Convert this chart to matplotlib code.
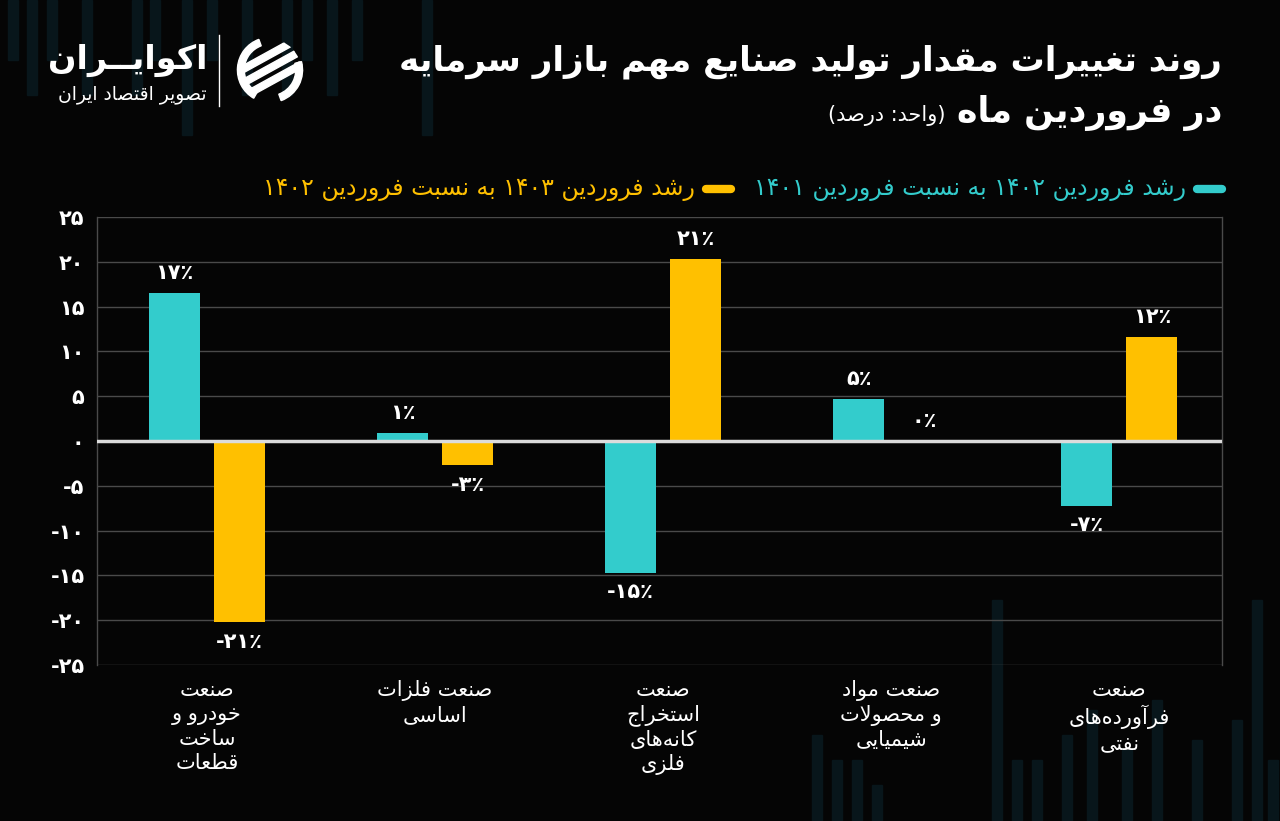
import matplotlib
matplotlib.use("Agg")
import matplotlib.pyplot as plt
import numpy as np
from matplotlib.lines import Line2D
from matplotlib.patches import Rectangle, Wedge, Polygon, Circle

# ---- data -------------------------------------------------------------
categories = [
    "صنعت\nخودرو و\nساخت\nقطعات",
    "صنعت فلزات\nاساسی",
    "صنعت\nاستخراج\nکانه\u200cهای\nفلزی",
    "صنعت مواد\nو محصولات\nشیمیایی",
    "صنعت\nفرآورده\u200cهای\nنفتی",
]
growth_1402 = [16.5, 0.9, -14.7, 4.7, -7.2]
growth_1403 = [-20.2, -2.7, 20.3, 0.0, 11.6]
labels_1402 = ["17", "1", "-15", "5", "-7"]
labels_1403 = ["-21", "-3", "21", "0", "12"]
yticks = [-25, -20, -15, -10, -5, 0, 5, 10, 15, 20, 25]

series_names = [
    "رشد فروردین ۱۴۰۲ به نسبت فروردین ۱۴۰۱",
    "رشد فروردین ۱۴۰۳ به نسبت فروردین ۱۴۰۲",
]
title_1 = "روند تغییرات مقدار تولید صنایع مهم بازار سرمایه"
title_2 = "در فروردین ماه"
unit = "(واحد: درصد)"

CYAN = "#33cccc"
YELLOW = "#ffc000"
BG = "#050505"

# ---- tiny persian shaper (no arabic_reshaper here) --------------------
DUAL = {
    "ب": "\ufe8f\ufe90\ufe91\ufe92", "ت": "\ufe95\ufe96\ufe97\ufe98",
    "ث": "\ufe99\ufe9a\ufe9b\ufe9c", "ج": "\ufe9d\ufe9e\ufe9f\ufea0",
    "ح": "\ufea1\ufea2\ufea3\ufea4", "خ": "\ufea5\ufea6\ufea7\ufea8",
    "س": "\ufeb1\ufeb2\ufeb3\ufeb4", "ش": "\ufeb5\ufeb6\ufeb7\ufeb8",
    "ص": "\ufeb9\ufeba\ufebb\ufebc", "ض": "\ufebd\ufebe\ufebf\ufec0",
    "ط": "\ufec1\ufec2\ufec3\ufec4", "ظ": "\ufec5\ufec6\ufec7\ufec8",
    "ع": "\ufec9\ufeca\ufecb\ufecc", "غ": "\ufecd\ufece\ufecf\ufed0",
    "ف": "\ufed1\ufed2\ufed3\ufed4", "ق": "\ufed5\ufed6\ufed7\ufed8",
    "ل": "\ufedd\ufede\ufedf\ufee0", "م": "\ufee1\ufee2\ufee3\ufee4",
    "ن": "\ufee5\ufee6\ufee7\ufee8", "ه": "\ufee9\ufeea\ufeeb\ufeec",
    "پ": "\ufb56\ufb57\ufb58\ufb59", "چ": "\ufb7a\ufb7b\ufb7c\ufb7d",
    "ک": "\ufb8e\ufb8f\ufb90\ufb91", "گ": "\ufb92\ufb93\ufb94\ufb95",
    "ی": "\ufbfc\ufbfd\ufbfe\ufbff", "ئ": "\ufe89\ufe8a\ufe8b\ufe8c",
    "ـ": "ـــــ",
}
RIGHT = {
    "ا": "\ufe8d\ufe8e", "آ": "\ufe81\ufe82", "أ": "\ufe83\ufe84",
    "د": "\ufea9\ufeaa", "ذ": "\ufeab\ufeac", "ر": "\ufead\ufeae",
    "ز": "\ufeaf\ufeb0", "ژ": "\ufb8a\ufb8b", "و": "\ufeed\ufeee",
}
LAM_ALEF = {"ا": "\ufefb\ufefc", "آ": "\ufef5\ufef6", "أ": "\ufef7\ufef8"}
MIRROR = {"(": ")", ")": "("}


def shape(text):
    out = []
    i = 0
    n = len(text)
    while i < n:
        ch = text[i]
        prev = text[i - 1] if i > 0 else ""
        nxt = text[i + 1] if i + 1 < n else ""
        prev_j = prev in DUAL
        if ch == "ل" and nxt in LAM_ALEF:
            out.append(LAM_ALEF[nxt][1 if prev_j else 0])
            i += 2
            continue
        next_j = nxt in DUAL or nxt in RIGHT
        if ch in DUAL:
            idx = {(False, False): 0, (True, False): 1,
                   (False, True): 2, (True, True): 3}[(prev_j, next_j)]
            out.append(DUAL[ch][idx])
        elif ch in RIGHT:
            out.append(RIGHT[ch][1 if prev_j else 0])
        elif ch != "\u200c":
            out.append(ch)
        i += 1
    return "".join(out)


def vis(text):
    """shape + right-to-left visual order, digit runs kept left-to-right"""
    lines = []
    for line in text.split("\n"):
        s = shape(line)[::-1]
        s = "".join(MIRROR.get(c, c) for c in s)
        res, run = [], []
        for c in s:
            if c.isdigit():
                run.append(c)
            else:
                res.extend(run[::-1])
                run = []
                res.append(c)
        res.extend(run[::-1])
        lines.append("".join(res))
    return "\n".join(lines)


FA = str.maketrans("0123456789", "۰۱۲۳۴۵۶۷۸۹")


def fa_num(s):
    return str(s).translate(FA)


# ---- figure -----------------------------------------------------------
plt.rcParams["font.family"] = ["DejaVu Sans"]
fig = plt.figure(figsize=(12.8, 8.21), dpi=100, facecolor=BG)

# faint decorative background columns
decor_top = [(8, 60), (27, 95), (47, 60), (82, 95), (132, 95), (150, 60),
             (182, 135), (207, 60), (242, 95), (282, 95), (302, 60),
             (327, 95), (352, 60), (422, 135)]
decor_bottom = [(812, 735), (832, 760), (852, 760), (872, 785),
                (992, 600), (1012, 760), (1032, 760), (1062, 735),
                (1087, 710), (1122, 750), (1152, 700), (1192, 740),
                (1232, 720), (1252, 600), (1268, 760)]
for x, h in decor_top:
    fig.patches.append(Rectangle((x / 1280, 1 - h / 821), 10 / 1280, h / 821,
                                 transform=fig.transFigure, color="#08161b",
                                 zorder=-5))
for x, y0 in decor_bottom:
    fig.patches.append(Rectangle((x / 1280, 0), 10 / 1280, 1 - y0 / 821,
                                 transform=fig.transFigure, color="#08161b",
                                 zorder=-5))

ax = fig.add_axes([97 / 1280, 1 - 665 / 821, 1125 / 1280, 448 / 821])
ax.set_facecolor("none")

x = np.arange(len(categories))
w = 0.224
off = 0.1425
ax.bar(x - off, growth_1402, w, color=CYAN, zorder=3)
ax.bar(x + off, growth_1403, w, color=YELLOW, zorder=3)

for xs, vals, labs in ((x - off, growth_1402, labels_1402),
                       (x + off, growth_1403, labels_1403)):
    for xi, v, lab in zip(xs, vals, labs):
        txt = fa_num(lab) + "٪"
        if v >= 0:
            ax.annotate(txt, (xi, v), xytext=(0, 7), textcoords="offset points",
                        ha="center", va="bottom", color="white",
                        fontsize=15, fontweight="bold", zorder=4)
        else:
            ax.annotate(txt, (xi, v), xytext=(0, -7), textcoords="offset points",
                        ha="center", va="top", color="white",
                        fontsize=15, fontweight="bold", zorder=4)

ax.set_xlim(-0.482, 4.45)
ax.set_ylim(-25, 25)
ax.set_yticks(yticks)
ax.set_yticklabels([fa_num(t) for t in yticks], color="white",
                   fontsize=15, fontweight="bold")
ax.tick_params(axis="y", length=0, pad=9)
ax.set_xticks([])
ax.grid(axis="y", color="#4a4a4a", lw=1, zorder=1)
ax.axhline(0, color="#dcdcdc", lw=2.5, zorder=3.5)
for side in ("top", "bottom"):
    ax.spines[side].set_visible(False)
for side in ("left", "right"):
    ax.spines[side].set_color("#4a4a4a")
    ax.spines[side].set_linewidth(1)

for xi, cat in zip(x, categories):
    ax.text(xi, -0.033, vis(cat), transform=ax.get_xaxis_transform(),
            ha="center", va="top", color="white", fontsize=15,
            linespacing=1.25)

# ---- titles -----------------------------------------------------------
fig.text(1222 / 1280, 1 - 62 / 821, vis(title_1), ha="right", va="center",
         color="white", fontsize=24.5, fontweight="bold")
t2 = fig.text(1222 / 1280, 1 - 113 / 821, vis(title_2), ha="right",
              va="center", color="white", fontsize=25, fontweight="bold")
ax.annotate(vis(unit), xy=(0, 0.42), xycoords=t2, xytext=(-8, 0),
            textcoords="offset points", ha="right", va="center",
            color="white", fontsize=15, annotation_clip=False)

# ---- legend (right to left) --------------------------------------------
ly = 1 - 189 / 821
fig.add_artist(Line2D([1197 / 1280, 1222 / 1280], [ly, ly], color=CYAN,
                      lw=6, solid_capstyle="round", transform=fig.transFigure))
lt1 = fig.text(1186 / 1280, ly, vis(series_names[0]), ha="right", va="center",
               color=CYAN, fontsize=17)
fig.canvas.draw()
bb = lt1.get_window_extent()
x_end = bb.x0 / 1280
fig.add_artist(Line2D([x_end - 48 / 1280, x_end - 23 / 1280], [ly, ly],
                      color=YELLOW, lw=6, solid_capstyle="round",
                      transform=fig.transFigure))
fig.text(x_end - 59 / 1280, ly, vis(series_names[1]), ha="right",
         va="center", color=YELLOW, fontsize=17)

# ---- logo --------------------------------------------------------------
fig.text(207 / 1280, 1 - 60 / 821, vis("اکوایــران"), ha="right", va="center",
         color="white", fontsize=24, fontweight="bold")
fig.text(207 / 1280, 1 - 94 / 821, vis("تصویر اقتصاد ایران"), ha="right",
         va="center", color="white", fontsize=13.5)
fig.add_artist(Line2D([219 / 1280, 219 / 1280], [1 - 35 / 821, 1 - 106 / 821],
                      color="white", lw=1, transform=fig.transFigure))
lax = fig.add_axes([234 / 1280, 1 - 106 / 821, 72 / 1280, 72 / 821])
lax.set_xlim(-1.05, 1.05)
lax.set_ylim(-1.05, 1.05)
lax.axis("off")
lax.add_patch(Wedge((0, 0), 0.95, 110, 240, width=0.2, color="white"))
lax.add_patch(Wedge((0, 0), 0.95, 290, 15, width=0.2, color="white"))
clip = Circle((0, 0), 0.9, transform=lax.transData)
for y0 in (0.2, -0.2, -0.6):
    stripe = Polygon([(-0.9, y0 - 0.35), (1.1, y0 + 0.75), (1.1, y0 + 0.97),
                      (-0.9, y0 - 0.13)], closed=True, color="white")
    lax.add_patch(stripe)
    stripe.set_clip_path(clip)

fig.savefig("out.png", dpi=100, facecolor=BG)
